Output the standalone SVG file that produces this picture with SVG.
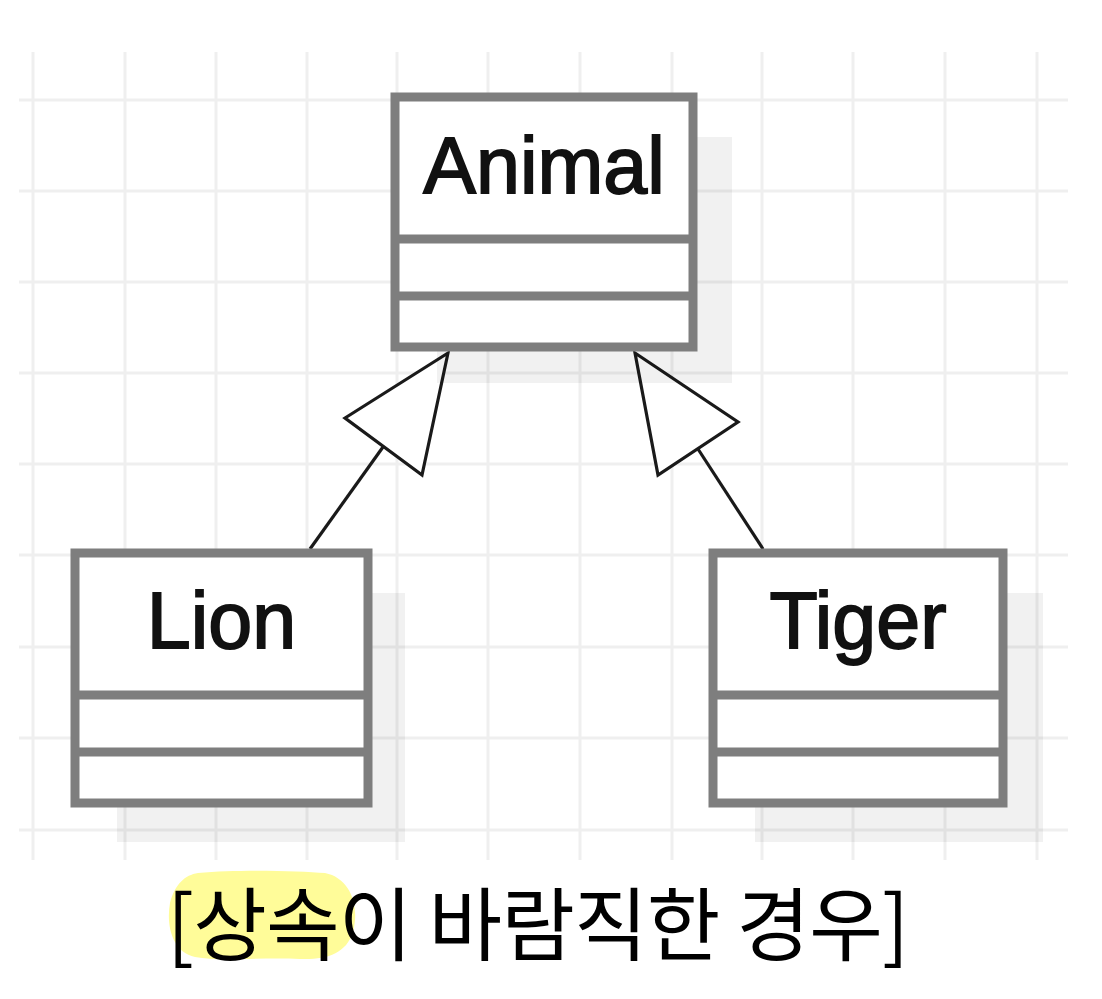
<svg xmlns="http://www.w3.org/2000/svg" width="1102" height="999" viewBox="0 0 1102 999">
<style>
.grid line{stroke:#efefef;stroke-width:3}
.shadow{fill:#000;fill-opacity:0.055}
.box{fill:#fff;stroke:#7e7e7e;stroke-width:9}
.div{stroke:#7e7e7e;stroke-width:9}
.name{font-family:"Liberation Sans",Arial,sans-serif;font-size:79px;fill:#111;stroke:#111;stroke-width:1.8;text-anchor:middle}
.edge{stroke:#1a1a1a;stroke-width:3.2;fill:none}
.head{fill:#fff;stroke:#1a1a1a;stroke-width:3.2;stroke-linejoin:miter}
.cap{font-family:"Noto Sans CJK KR","Noto Sans",sans-serif;font-size:80px;fill:#000}
</style>
<rect width="1102" height="999" fill="#fff"/>
<g class="grid">
<line x1="33" y1="52" x2="33" y2="860"/>
<line x1="125" y1="52" x2="125" y2="860"/>
<line x1="216" y1="52" x2="216" y2="860"/>
<line x1="307" y1="52" x2="307" y2="860"/>
<line x1="397" y1="52" x2="397" y2="860"/>
<line x1="488" y1="52" x2="488" y2="860"/>
<line x1="580" y1="52" x2="580" y2="860"/>
<line x1="672" y1="52" x2="672" y2="860"/>
<line x1="762" y1="52" x2="762" y2="860"/>
<line x1="853" y1="52" x2="853" y2="860"/>
<line x1="945" y1="52" x2="945" y2="860"/>
<line x1="1037" y1="52" x2="1037" y2="860"/>
<line x1="19" y1="100" x2="1068" y2="100"/>
<line x1="19" y1="191" x2="1068" y2="191"/>
<line x1="19" y1="282" x2="1068" y2="282"/>
<line x1="19" y1="373" x2="1068" y2="373"/>
<line x1="19" y1="464" x2="1068" y2="464"/>
<line x1="19" y1="555" x2="1068" y2="555"/>
<line x1="19" y1="647" x2="1068" y2="647"/>
<line x1="19" y1="738" x2="1068" y2="738"/>
<line x1="19" y1="830" x2="1068" y2="830"/>
</g>
<g id="connectors">
<line class="edge" x1="310" y1="549" x2="383" y2="447"/>
<polygon class="head" points="448,353 345,418 422,475"/>
<line class="edge" x1="763" y1="549" x2="698" y2="449"/>
<polygon class="head" points="635,353 738,422 658,475"/>
</g>
<g id="animal">
<rect class="shadow" x="437" y="137" width="295" height="246"/>
<rect class="box" x="395" y="97" width="298" height="250"/>
<line class="div" x1="395" y1="239" x2="693" y2="239"/>
<line class="div" x1="395" y1="296" x2="693" y2="296"/>
<text class="name" x="544" y="193">Animal</text>
</g>
<g id="lion">
<rect class="shadow" x="117" y="593" width="288" height="249"/>
<rect class="box" x="75" y="553" width="293" height="250"/>
<line class="div" x1="75" y1="695" x2="368" y2="695"/>
<line class="div" x1="75" y1="752" x2="368" y2="752"/>
<text class="name" x="221.5" y="648">Lion</text>
</g>
<g id="tiger">
<rect class="shadow" x="755" y="593" width="288" height="249"/>
<rect class="box" x="713" y="553" width="290" height="250"/>
<line class="div" x1="713" y1="695" x2="1003" y2="695"/>
<line class="div" x1="713" y1="752" x2="1003" y2="752"/>
<text class="name" x="858" y="648">Tiger</text>
</g>
<g id="caption">
<path d="M198,873 C240,869 300,871 325,873 C350,878 360,905 353,932 C346,954 326,960 300,959 C260,957 220,962 195,957 C172,952 166,925 170,903 C175,884 185,875 198,873 Z" fill="#fffc99"/>
<text class="cap" x="167" y="954" textLength="742" lengthAdjust="spacing">[상속이 바람직한 경우]</text>
</g>
</svg>
